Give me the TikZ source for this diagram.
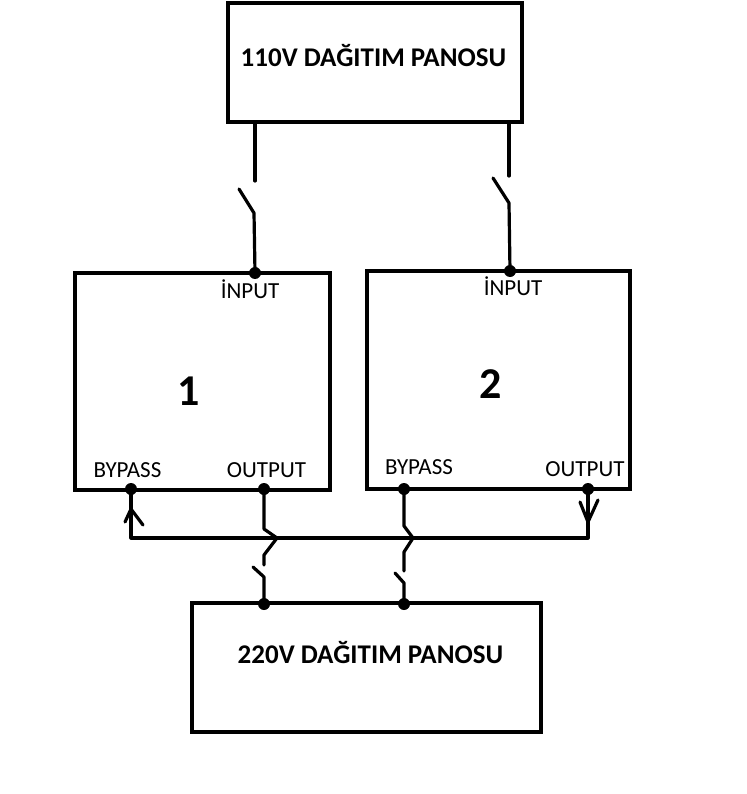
\documentclass[tikz,border=0pt]{standalone}
\usepackage{fontspec}
\setmainfont{Carlito}
\begin{document}
\begin{tikzpicture}[x=1pt,y=-1pt,
  wire/.style={line width=3.2pt, line cap=round, line join=round},
  box/.style={draw, line width=3.2pt, inner sep=0pt},
  dotnode/.style={circle, fill, inner sep=0pt, minimum size=12pt},
  title/.style={anchor=base, inner sep=0pt, font=\fontsize{27}{30}\selectfont\bfseries},
  lbl/.style={anchor=base, inner sep=0pt, font=\fontsize{23}{26}\selectfont},
  num/.style={anchor=base, inner sep=0pt, font=\fontsize{44}{48}\selectfont\bfseries}]
\useasboundingbox[fill=white] (0,0) rectangle (746,794);

% boxes
\node[box, minimum width=294pt, minimum height=119pt] (top) at (375,62.5) {};
\node[box, minimum width=255pt, minimum height=217pt] (ups1) at (202.5,381.5) {};
\node[box, minimum width=263pt, minimum height=218pt] (ups2) at (498.5,380) {};
\node[box, minimum width=349pt, minimum height=129pt] (bot) at (366.5,667.5) {};

% texts
\node[title] (t110) at (373.5,67) {110V DAĞITIM PANOSU};
\node[title] (t220) at (370.5,663) {220V DAĞITIM PANOSU};
\node[num] (n1) at (189,405) {1};
\node[num] (n2) at (491,398) {2};
\node[lbl] (in1l) at (250,298) {İNPUT};
\node[lbl] (in2l) at (513,295) {İNPUT};
\node[lbl] (bp1l) at (127.5,477) {BYPASS};
\node[lbl] (out1l) at (266.5,477.5) {OUTPUT};
\node[lbl] (bp2l) at (419,474) {BYPASS};
\node[lbl] (out2l) at (585,476) {OUTPUT};

% terminal points
\coordinate (in1) at (255,273);
\coordinate (in2) at (510,271);
\coordinate (bp1) at (131,489);
\coordinate (out1) at (264,489);
\coordinate (bp2) at (404,489);
\coordinate (out2) at (588,489);
\coordinate (b1) at (264,604);
\coordinate (b2) at (404,604);
\coordinate (t1) at (255,122);
\coordinate (t2) at (509,122);

% input switch 1
\coordinate (s1a) at (255,181);
\coordinate (s1b) at (239,189);
\coordinate (s1c) at (254,213);
\draw[wire] (t1) -- (s1a);
\draw[wire] (s1b) -- (s1c) -- (in1);
% input switch 2
\coordinate (s2a) at (509,176);
\coordinate (s2b) at (493,178);
\coordinate (s2c) at (509,203);
\draw[wire] (t2) -- (s2a);
\draw[wire] (s2b) -- (s2c) -- (in2);

% bus
\coordinate (busL) at (131,538);
\coordinate (busR) at (588,538);
\draw[wire] (bp1) -- (busL) -- (busR) -- (out2);
% arrow marks
\coordinate (a1l) at (125,522);
\coordinate (a1t) at (131,509);
\coordinate (a1r) at (143,525);
\draw[wire] (a1l) -- (a1t) -- (a1r);
\coordinate (a2l) at (580,502);
\coordinate (a2t) at (588,522);
\coordinate (a2r) at (598,500);
\draw[wire] (a2l) -- (a2t) -- (a2r);

% output 1 to bottom panel, with jump and switch
\coordinate (o1a) at (264,529);
\coordinate (o1b) at (277,538);
\coordinate (o1c) at (264,555);
\coordinate (o1d) at (264,565);
\coordinate (o1e) at (253,567);
\coordinate (o1f) at (264,577);
\draw[wire] (out1) -- (o1a) -- (o1b) -- (o1c) -- (o1d);
\draw[wire] (o1e) -- (o1f) -- (b1);

% bypass 2 to bottom panel, with jump and switch
\coordinate (p2a) at (404,526);
\coordinate (p2b) at (413,538);
\coordinate (p2c) at (404,552);
\coordinate (p2d) at (404,571);
\coordinate (p2e) at (395,573);
\coordinate (p2f) at (404,583);
\draw[wire] (bp2) -- (p2a) -- (p2b) -- (p2c) -- (p2d);
\draw[wire] (p2e) -- (p2f) -- (b2);

% dots
\foreach \p in {in1,in2,bp1,out1,bp2,out2,b1,b2}
  \node[dotnode] at (\p) {};
\end{tikzpicture}
\end{document}
